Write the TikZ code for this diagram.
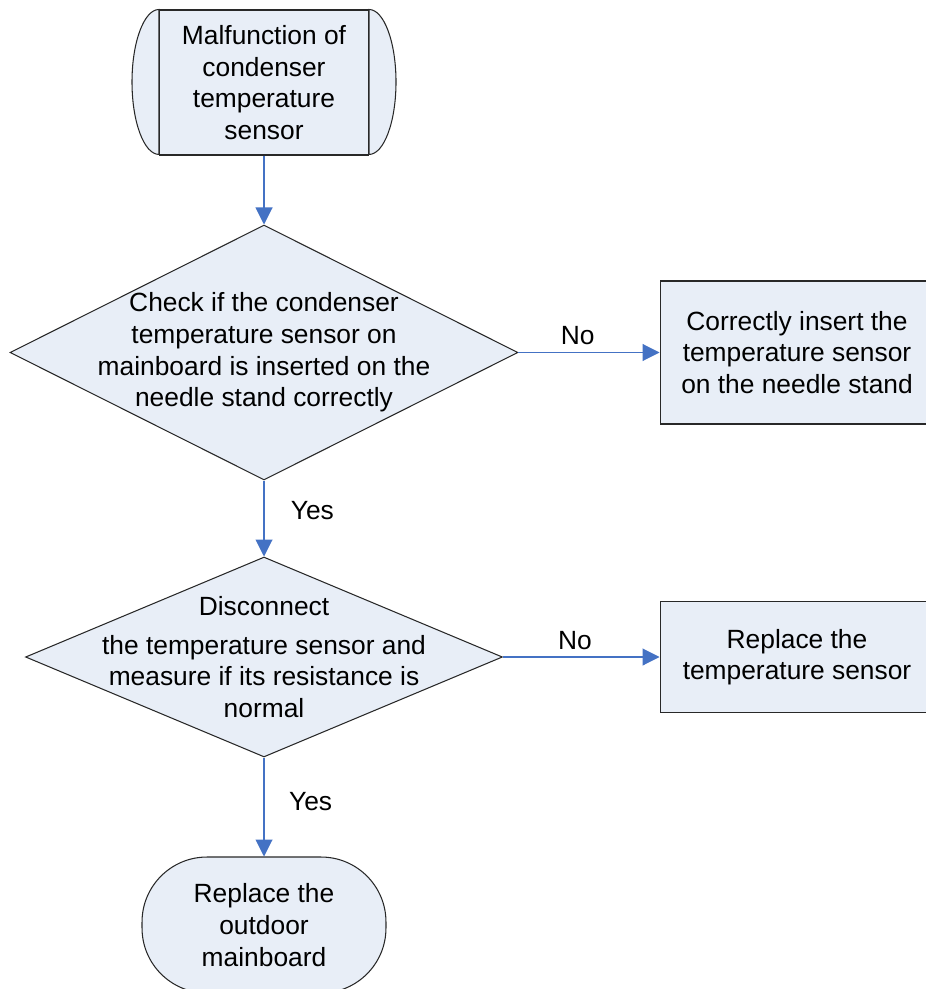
\documentclass[tikz,border=0pt]{standalone}
\usepackage{fontspec}
\setmainfont{Liberation Sans}
\usetikzlibrary{shapes.geometric}
\usetikzlibrary{arrows.meta}
\definecolor{boxfill}{RGB}{232,238,247}
\definecolor{linkblue}{RGB}{68,114,196}
\definecolor{edgegray}{RGB}{40,40,40}

\begin{document}
\begin{tikzpicture}[x=0.02cm,y=-0.02cm,
  font=\fontsize{15}{18}\selectfont,
  box/.style={draw=edgegray,fill=boxfill,line width=0.6pt,align=center,inner sep=0pt},
  decision/.style={box,diamond},
  link/.style={draw=linkblue,line width=0.6pt,-{Triangle[length=0.34cm,width=0.34cm]}},
  lbl/.style={inner sep=0pt}]

\useasboundingbox (0,0) rectangle (925,989);

\node[box,minimum width=4.18cm,minimum height=2.9cm] (start) at (264,82.5) {Malfunction of\\condenser\\temperature\\sensor};
\draw[box] (start.north west) arc[start angle=90,end angle=270,x radius=0.54cm,y radius=1.45cm] -- cycle;
\draw[box] (start.north east) arc[start angle=90,end angle=-90,x radius=0.54cm,y radius=1.45cm] -- cycle;

\node[decision,minimum width=10.16cm,minimum height=5.1cm] (check) at (264,352.5) {};
\node[lbl,align=center] (checktxt) at (check.center) {Check if the condenser\\temperature sensor on\\mainboard is inserted on the\\needle stand correctly};

\node[box,minimum width=5.48cm,minimum height=2.86cm] (insert) at (797,352.5) {Correctly insert the\\temperature sensor\\on the needle stand};

\node[decision,minimum width=9.54cm,minimum height=4cm] (measure) at (264,657) {};
\node[lbl,align=center] (measuretxt) at (measure.center) {Disconnect\\[4pt]the temperature sensor and\\measure if its resistance is\\normal};

\node[box,minimum width=5.48cm,minimum height=2.22cm] (replace) at (797,657) {Replace the\\temperature sensor};

\node[box,rounded corners=1.3cm,minimum width=4.88cm,minimum height=2.72cm] (board) at (264,925) {Replace the\\outdoor\\mainboard};

\draw[link] (start.south) -- (check.north);
\draw[link] (check.east) -- node[lbl,pos=.42,above=4pt]{No} (insert.west);
\draw[link] (check.south) -- node[lbl,pos=.39,right=15pt]{Yes} (measure.north);
\draw[link] (measure.east) -- node[lbl,pos=.46,above=4pt]{No} (replace.west);
\draw[link] (measure.south) -- node[lbl,pos=.45,right=14pt]{Yes} (board.north);
\end{tikzpicture}
\end{document}
